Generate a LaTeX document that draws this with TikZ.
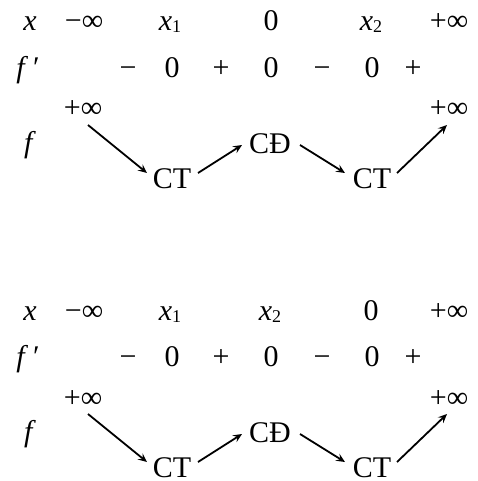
\documentclass[tikz,border=0pt]{standalone}
\usepackage{fontspec}
\usetikzlibrary{arrows.meta}
\setmainfont{Liberation Serif}
\newcommand{\myx}[1]{\textit{x}\raisebox{-1pt}{\fontsize{9}{9}\selectfont #1}}
\begin{document}
\begin{tikzpicture}[x=0.5pt,y=-0.5pt,
  lbl/.style={inner sep=0pt,anchor=base,font=\fontsize{15}{18}\selectfont},
  arr/.style={-{Stealth[length=4.5pt,width=4pt,inset=1.8pt]},line width=0.9pt}]
\useasboundingbox (0,0) rectangle (477,481);
% ---------- top table ----------
\begin{scope}
\node[lbl] (ax) at (30,31) {\textit{x}};
\node[lbl] (ami) at (84,31) {−∞};
\node[lbl] (ax1) at (170,31) {\myx{1}};
\node[lbl] (az) at (271,31) {0};
\node[lbl] (ax2) at (371,31) {\myx{2}};
\node[lbl] (api) at (449,31) {+∞};
\node[lbl] (afp) at (28,77) {\textit{f}\,′};
\node[lbl] (as1) at (128,77) {−};
\node[lbl] (ad1) at (172,77) {0};
\node[lbl] (as2) at (221,77) {+};
\node[lbl] (ad2) at (271,77) {0};
\node[lbl] (as3) at (322,77) {−};
\node[lbl] (ad3) at (372,77) {0};
\node[lbl] (as4) at (413,77) {+};
\node[lbl] (af) at (30,152) {\textit{f}};
\node[lbl] (ap1) at (83,118) {+∞};
\node[lbl] (ap2) at (449,118) {+∞};
\node[lbl] (act1) at (172,188) {CT};
\node[lbl] (acd) at (270,153) {CĐ};
\node[lbl] (act2) at (372,188) {CT};
\draw[arr] ([shift={(5,7)}]ap1.base) -- ([shift={(-25,-15)}]act1.base);
\draw[arr] ([shift={(26,-15)}]act1.base) -- ([shift={(-28,-8)}]acd.base);
\draw[arr] ([shift={(30,-8)}]acd.base) -- ([shift={(-27,-15)}]act2.base);
\draw[arr] ([shift={(25,-15)}]act2.base) -- ([shift={(-2,7)}]ap2.base);
\end{scope}
% ---------- bottom table ----------
\begin{scope}[yshift=-144.5pt]
\node[lbl] (bx) at (30,31) {\textit{x}};
\node[lbl] (bmi) at (84,31) {−∞};
\node[lbl] (bx1) at (170,31) {\myx{1}};
\node[lbl] (bx2) at (270,31) {\myx{2}};
\node[lbl] (bz) at (371,31) {0};
\node[lbl] (bpi) at (449,31) {+∞};
\node[lbl] (bfp) at (28,77) {\textit{f}\,′};
\node[lbl] (bs1) at (128,77) {−};
\node[lbl] (bd1) at (172,77) {0};
\node[lbl] (bs2) at (221,77) {+};
\node[lbl] (bd2) at (271,77) {0};
\node[lbl] (bs3) at (322,77) {−};
\node[lbl] (bd3) at (372,77) {0};
\node[lbl] (bs4) at (413,77) {+};
\node[lbl] (bf) at (30,152) {\textit{f}};
\node[lbl] (bp1) at (83,118) {+∞};
\node[lbl] (bp2) at (449,118) {+∞};
\node[lbl] (bct1) at (172,188) {CT};
\node[lbl] (bcd) at (270,153) {CĐ};
\node[lbl] (bct2) at (372,188) {CT};
\draw[arr] ([shift={(5,7)}]bp1.base) -- ([shift={(-25,-15)}]bct1.base);
\draw[arr] ([shift={(26,-15)}]bct1.base) -- ([shift={(-28,-8)}]bcd.base);
\draw[arr] ([shift={(30,-8)}]bcd.base) -- ([shift={(-27,-15)}]bct2.base);
\draw[arr] ([shift={(25,-15)}]bct2.base) -- ([shift={(-2,7)}]bp2.base);
\end{scope}
\end{tikzpicture}
\end{document}
